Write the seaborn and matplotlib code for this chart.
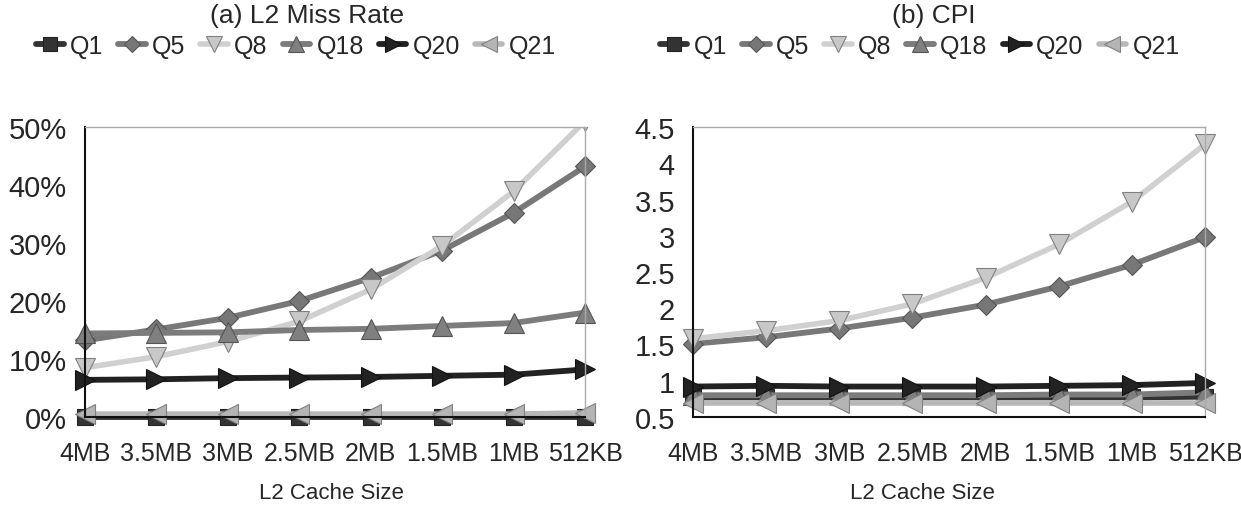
import numpy as np
import pandas as pd
import matplotlib
matplotlib.use("Agg")
import matplotlib.pyplot as plt
import matplotlib.patches as mpatches
import seaborn as sns

cache_sizes = ["4MB", "3.5MB", "3MB", "2.5MB", "2MB", "1.5MB", "1MB", "512KB"]
queries = ["Q1", "Q5", "Q8", "Q18", "Q20", "Q21"]

# (a) L2 miss rate, percent
miss_q1 = [0.0, 0.0, 0.0, 0.0, 0.0, 0.0, 0.0, 0.0]
miss_q5 = [13.2, 15.1, 17.1, 20.0, 24.0, 28.7, 35.2, 43.2]
miss_q8 = [8.5, 10.4, 13.0, 16.5, 22.0, 29.5, 38.9, 51.0]
miss_q18 = [14.4, 14.5, 14.6, 15.0, 15.2, 15.7, 16.2, 18.0]
miss_q20 = [6.4, 6.5, 6.7, 6.8, 6.9, 7.1, 7.3, 8.2]
miss_q21 = [0.5, 0.5, 0.5, 0.5, 0.5, 0.5, 0.5, 0.7]

# (b) CPI
cpi_q1 = [0.77, 0.77, 0.77, 0.77, 0.77, 0.77, 0.77, 0.78]
cpi_q5 = [1.51, 1.60, 1.72, 1.87, 2.05, 2.30, 2.60, 2.98]
cpi_q8 = [1.58, 1.69, 1.83, 2.06, 2.42, 2.88, 3.47, 4.26]
cpi_q18 = [0.80, 0.80, 0.80, 0.80, 0.80, 0.81, 0.81, 0.84]
cpi_q20 = [0.92, 0.93, 0.92, 0.92, 0.92, 0.93, 0.94, 0.97]
cpi_q21 = [0.70, 0.70, 0.70, 0.70, 0.70, 0.70, 0.70, 0.70]

styles = {
    "Q1": dict(color="#333333", marker="s", ms=12, mfc="#333333", mec="#222222", lw=4.2),
    "Q5": dict(color="#787878", marker="D", ms=10, mfc="#777777", mec="#555555", lw=4.2),
    "Q8": dict(color="#d0d0d0", marker="v", ms=14, mfc="#c8c8c8", mec="#808080", lw=4.0),
    "Q18": dict(color="#7c7c7c", marker="^", ms=14, mfc="#808080", mec="#555555", lw=4.2),
    "Q20": dict(color="#222222", marker=">", ms=14, mfc="#222222", mec="#111111", lw=4.2),
    "Q21": dict(color="#b8b8b8", marker="<", ms=14, mfc="#b4b4b4", mec="#808080", lw=4.0),
}


def make_frame(series):
    rows = []
    for q, vals in zip(queries, series):
        for i, v in enumerate(vals):
            rows.append({"query": q, "pos": i, "value": v})
    return pd.DataFrame(rows)


def draw_panel(ax, df, title, title_x, legend_x, xlabel_x):
    for q in queries:
        st = styles[q]
        sub = df[df["query"] == q]
        sns.lineplot(data=sub, x="pos", y="value", ax=ax, color=st["color"],
                     linewidth=st["lw"], marker=st["marker"], markersize=st["ms"],
                     markerfacecolor=st["mfc"], markeredgecolor=st["mec"],
                     markeredgewidth=0.8, label=q, legend=False)
        line = ax.lines[-1]
        # clip only at the top so edge markers stay whole
        clip = mpatches.Rectangle((-0.1, -0.2), 1.2, 1.2, transform=ax.transAxes,
                                  fill=False, visible=False)
        ax.add_patch(clip)
        line.set_clip_path(clip)
    ax.set_xlim(0, len(cache_sizes) - 1)
    ax.set_xticks(range(len(cache_sizes)))
    ax.set_xticklabels(cache_sizes, fontsize=18)
    ax.tick_params(axis="x", length=8, color="#999999", pad=9)
    ax.tick_params(axis="y", labelsize=21, length=5, color="#999999", pad=8)
    ax.set_ylabel("")
    ax.set_xlabel("")
    for side in ["top", "right"]:
        ax.spines[side].set_color("#aaaaaa")
        ax.spines[side].set_linewidth(1)
    for side in ["left", "bottom"]:
        ax.spines[side].set_color("#111111")
        ax.spines[side].set_linewidth(1.5)
    ax.text(title_x, 1.385, title, transform=ax.transAxes, ha="center", va="center", fontsize=19)
    ax.text(xlabel_x, -0.26, "L2 Cache Size", transform=ax.transAxes, ha="center",
            va="center", fontsize=16)
    handles = ax.lines[:len(queries)]
    ax.legend(handles, queries, loc="center", bbox_to_anchor=(legend_x, 1.28),
              ncol=6, frameon=False, fontsize=18, handlelength=1.1, handletextpad=0.25,
              columnspacing=0.6, markerscale=0.85)


sns.set_theme(style="white")
plt.rcParams["font.family"] = ["Liberation Sans", "DejaVu Sans"]

fig = plt.figure(figsize=(12.41, 5.06), dpi=100)
ax1 = fig.add_axes([85 / 1241, 1 - 418 / 506, 500 / 1241, 290 / 506])
ax2 = fig.add_axes([693 / 1241, 1 - 418 / 506, 512 / 1241, 290 / 506])

df_miss = make_frame([miss_q1, miss_q5, miss_q8, miss_q18, miss_q20, miss_q21])
df_cpi = make_frame([cpi_q1, cpi_q5, cpi_q8, cpi_q18, cpi_q20, cpi_q21])

draw_panel(ax1, df_miss, "(a) L2 Miss Rate", 0.444, 0.422, 0.492)
ax1.set_ylim(0, 50)
ax1.set_yticks(np.arange(0, 51, 10))
ax1.set_yticklabels([f"{int(v)}%" for v in np.arange(0, 51, 10)])

draw_panel(ax2, df_cpi, "(b) CPI", 0.471, 0.443, 0.449)
ax2.set_ylim(0.5, 4.5)
ax2.set_yticks(np.arange(0.5, 4.51, 0.5))
ax2.set_yticklabels([f"{v:g}" for v in np.arange(0.5, 4.51, 0.5)])

fig.savefig("out.png", dpi=100, facecolor="white")
